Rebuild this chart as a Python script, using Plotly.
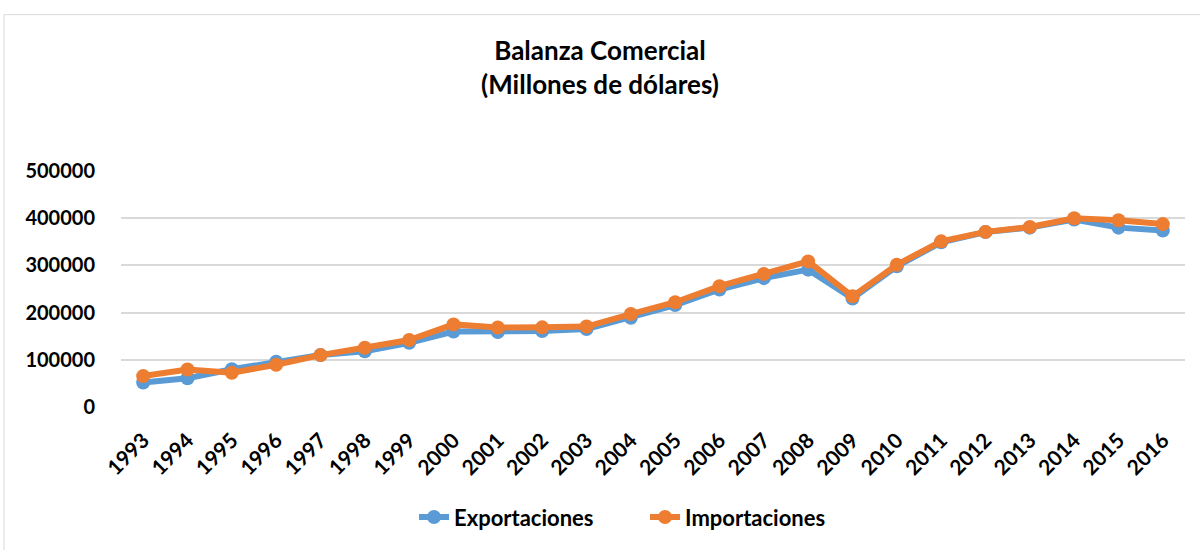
import plotly.graph_objects as go

years = [str(y) for y in range(1993, 2017)]
exportaciones = [52000, 61000, 80000, 96000, 110000, 118000, 136000, 160000, 159000, 161000, 165000,
                 189000, 216000, 249000, 273000, 291000, 230000, 298000, 349000, 370500, 380000,
                 397000, 380000, 374000]
importaciones = [65500, 79500, 72500, 89500, 110000, 125500, 142000, 175000, 168500, 168700, 170500,
                 197000, 222000, 256000, 282000, 308500, 234500, 301500, 351000, 371000, 381500,
                 400000, 395500, 387500]
y_ticks = [0, 100000, 200000, 300000, 400000, 500000]

BLUE = "#5B9BD5"
ORANGE = "#ED7D31"
FONT = "Lato"

fig = go.Figure()
fig.add_trace(go.Scatter(x=years, y=exportaciones, name="Exportaciones", mode="lines+markers",
                         line=dict(color=BLUE, width=6), marker=dict(color=BLUE, size=14)))
fig.add_trace(go.Scatter(x=years, y=importaciones, name="Importaciones", mode="lines+markers",
                         line=dict(color=ORANGE, width=6), marker=dict(color=ORANGE, size=14)))

fig.update_layout(
    width=1200, height=550,
    margin=dict(l=121, r=15, t=171, b=139),
    paper_bgcolor="white", plot_bgcolor="white",
    font=dict(family=FONT, color="black"),
    title=dict(text="<b>Balanza Comercial</b><br><b>(Millones de dólares)</b>",
               x=0.5, xref="container", xanchor="center",
               y=1 - 60 / 550, yref="container", yanchor="middle",
               font=dict(family=FONT, size=26, color="black")),
    xaxis=dict(type="category", range=[-0.5, 23.5], tickangle=-45,
               showgrid=False, showline=False, ticks="", ticklabelstandoff=16,
               tickfont=dict(family=FONT, size=21, color="black", weight="bold")),
    yaxis=dict(range=[0, 500000], tickvals=y_ticks, ticktext=[str(v) for v in y_ticks],
               showgrid=True, gridcolor="#D9D9D9", gridwidth=1.5, zeroline=False,
               showline=False, ticks="", ticklabelstandoff=25,
               tickfont=dict(family=FONT, size=20, color="black", weight="bold")),
    legend=dict(orientation="h", x=0.4925, xanchor="center", y=-0.467, yanchor="middle",
                font=dict(family=FONT, size=22, color="black", weight="bold"),
                entrywidth=186, entrywidthmode="pixels", tracegroupgap=0),
    showlegend=True,
    shapes=[dict(type="rect", xref="paper", yref="paper",
                 x0=(4 - 121) / 1064, x1=1.2, y0=-1.0, y1=(411 - 12) / 240,
                 line=dict(color="#D9D9D9", width=1), fillcolor="rgba(0,0,0,0)", layer="below")],
)

fig.write_html("out.html", config={"displayModeBar": False},
               post_script="document.body.style.margin='0';")
